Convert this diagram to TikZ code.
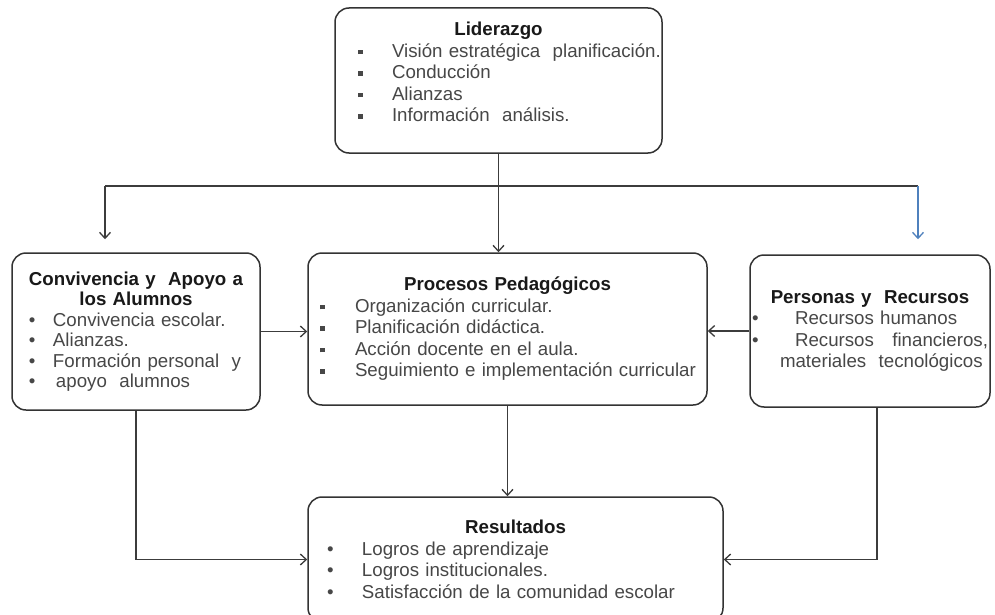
\documentclass[tikz,border=0pt]{standalone}
\usepackage{fontspec}
\setmainfont{Liberation Sans}
\usetikzlibrary{arrows.meta}
\definecolor{lineagris}{RGB}{60,60,60}
\definecolor{azul}{RGB}{79,129,189}
\tikzset{>={Straight Barb[length=6pt,width=11pt]}}
\newcommand{\sqb}{\rule[0.3ex]{4.5pt}{4.5pt}}
\newcommand{\rdb}{\textbullet}
\newcommand{\itm}[4]{\noindent\hspace*{#1}\makebox[#2][l]{#3}#4\par}
\newcommand{\titulo}[1]{{\centering\bfseries\color{black!90}#1\par}}

\begin{document}
\begin{tikzpicture}[x=1pt,y=-1pt,
	caja/.style={draw=black!80, line width=1.5pt, rounded corners=14pt, inner xsep=0pt, inner ysep=0pt, align=left, text=black!72, font=\fontsize{18.7}{21.5}\selectfont},
	flecha/.style={->, lineagris, line width=1.3pt}]
		\fill[white] (0,0) rectangle (995,615);
		\useasboundingbox (0,0) rectangle (995,615);

		\node[caja, text width=327pt, minimum height=145pt] (lid) at (498.5,80.5) {%
			\titulo{Liderazgo}
			\itm{23pt}{34pt}{\sqb}{Visión estratégica\ \ planificación.}
			\itm{23pt}{34pt}{\sqb}{Conducción}
			\itm{23pt}{34pt}{\sqb}{Alianzas}
			\itm{23pt}{34pt}{\sqb}{Información\ \ análisis.}
			\vspace*{17pt}};
		\node[caja, text width=248pt, minimum height=157pt, font=\fontsize{18.7}{20.5}\selectfont] (conv) at (136,331.5) {%
			\titulo{Convivencia y\ \ Apoyo a\\los Alumnos}
			\itm{17pt}{24pt}{\rdb}{Convivencia escolar.}
			\itm{17pt}{24pt}{\rdb}{Alianzas.}
			\itm{17pt}{24pt}{\rdb}{Formación personal\ \ y}
			\itm{17pt}{24pt}{\rdb}{\hspace*{3pt}apoyo\ \ alumnos}};
		\node[caja, text width=399pt, minimum height=152pt] (proc) at (507.5,329) {%
			\titulo{Procesos Pedagógicos}
			\itm{12pt}{35pt}{\sqb}{Organización curricular.}
			\itm{12pt}{35pt}{\sqb}{Planificación didáctica.}
			\itm{12pt}{35pt}{\sqb}{Acción docente en el aula.}
			\itm{12pt}{35pt}{\sqb}{Seguimiento e implementación curricular}};
		\node[caja, text width=240pt, minimum height=152pt] (pers) at (870,331) {%
			\titulo{Personas y\ \ Recursos}
			\itm{2pt}{43pt}{\rdb}{Recursos humanos}
			\itm{2pt}{43pt}{\rdb}{\makebox[193pt][l]{Recursos\hfill financieros,}}
			\noindent\hspace*{30pt}materiales\ \ tecnológicos\par};
		\node[caja, text width=415pt, minimum height=125pt] (res) at (515.5,559.5) {%
			\titulo{Resultados}
			\itm{19pt}{35pt}{\rdb}{Logros de aprendizaje}
			\itm{19pt}{35pt}{\rdb}{Logros institucionales.}
			\itm{19pt}{35pt}{\rdb}{Satisfacción de la comunidad escolar}};

		\coordinate (barL) at (105,186);
		\coordinate (barR) at (918,186);

		\draw[flecha] (lid.south) -- (lid.south |- proc.north);
		\draw[lineagris, line width=1.3pt] (barL) -- (barR);
		\draw[flecha, shorten >=13pt] (barL) -- (barL |- conv.north);
		\draw[flecha, azul, shorten >=15pt] (barR) -- (barR |- pers.north);
		\draw[flecha] (conv.east) -- (conv.east -| proc.west);
		\draw[flecha] (pers.west) -- (pers.west -| proc.east);
		\draw[flecha] (proc.south) -- (proc.south |- res.north);
		\draw[flecha] (conv.south) |- (res.west);
		\draw[flecha] ([xshift=7pt]pers.south) |- (res.east);
\end{tikzpicture}
\end{document}
